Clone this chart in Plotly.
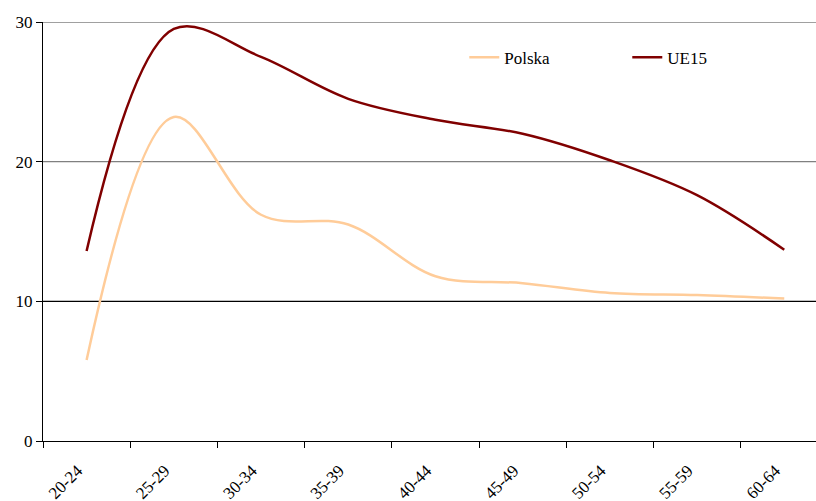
import plotly.graph_objects as go

categories = ["20-24", "25-29", "30-34", "35-39", "40-44", "45-49", "50-54", "55-59", "60-64"]
polska = [5.8, 23.2, 16.2, 15.5, 11.8, 11.3, 10.6, 10.45, 10.2]
ue15 = [13.6, 29.5, 27.5, 24.5, 23.0, 22.0, 20.1, 17.6, 13.7]
y_ticks = [0, 10, 20, 30]
grid_lines = [(10, "black"), (20, "#808080"), (30, "#808080")]

FONT = "Liberation Serif, serif"

fig = go.Figure()
fig.add_trace(go.Scatter(x=categories, y=polska, name="Polska", mode="lines",
                         line=dict(color="#FFCC99", width=2.5, shape="spline")))
fig.add_trace(go.Scatter(x=categories, y=ue15, name="UE15", mode="lines",
                         line=dict(color="#800000", width=2.5, shape="spline")))

for yv, col in grid_lines:
    fig.add_shape(type="line", xref="paper", x0=0, x1=1, yref="y", y0=yv, y1=yv,
                  line=dict(color=col, width=1.3), layer="below")

fig.update_layout(
    width=816, height=501,
    margin=dict(l=43, r=0, t=22, b=60),
    paper_bgcolor="white", plot_bgcolor="white",
    font=dict(family=FONT, size=17, color="black"),
    showlegend=True,
    legend=dict(orientation="h", x=0.545, y=0.915, xanchor="left", yanchor="middle",
                font=dict(family=FONT, size=17), entrywidth=118, bgcolor="rgba(0,0,0,0)"),
    xaxis=dict(type="category", range=[-0.5, 8.364], tickson="boundaries",
               ticks="outside", ticklen=6, tickcolor="black", tickangle=-45,
               ticklabelstandoff=12, ticklabelshift=-9,
               showline=True, linecolor="black", linewidth=1.3, showgrid=False,
               tickfont=dict(family=FONT, size=17), zeroline=False, automargin=False),
    yaxis=dict(range=[0, 30], tickvals=y_ticks, ticks="outside", ticklen=6,
               tickcolor="black", showline=True, linecolor="black", linewidth=1.3,
               showgrid=False, zeroline=False, automargin=False,
               tickfont=dict(family=FONT, size=17)),
)

fig.write_html("out.html", config={"displayModeBar": False},
               post_script="document.body.style.margin='0';")
